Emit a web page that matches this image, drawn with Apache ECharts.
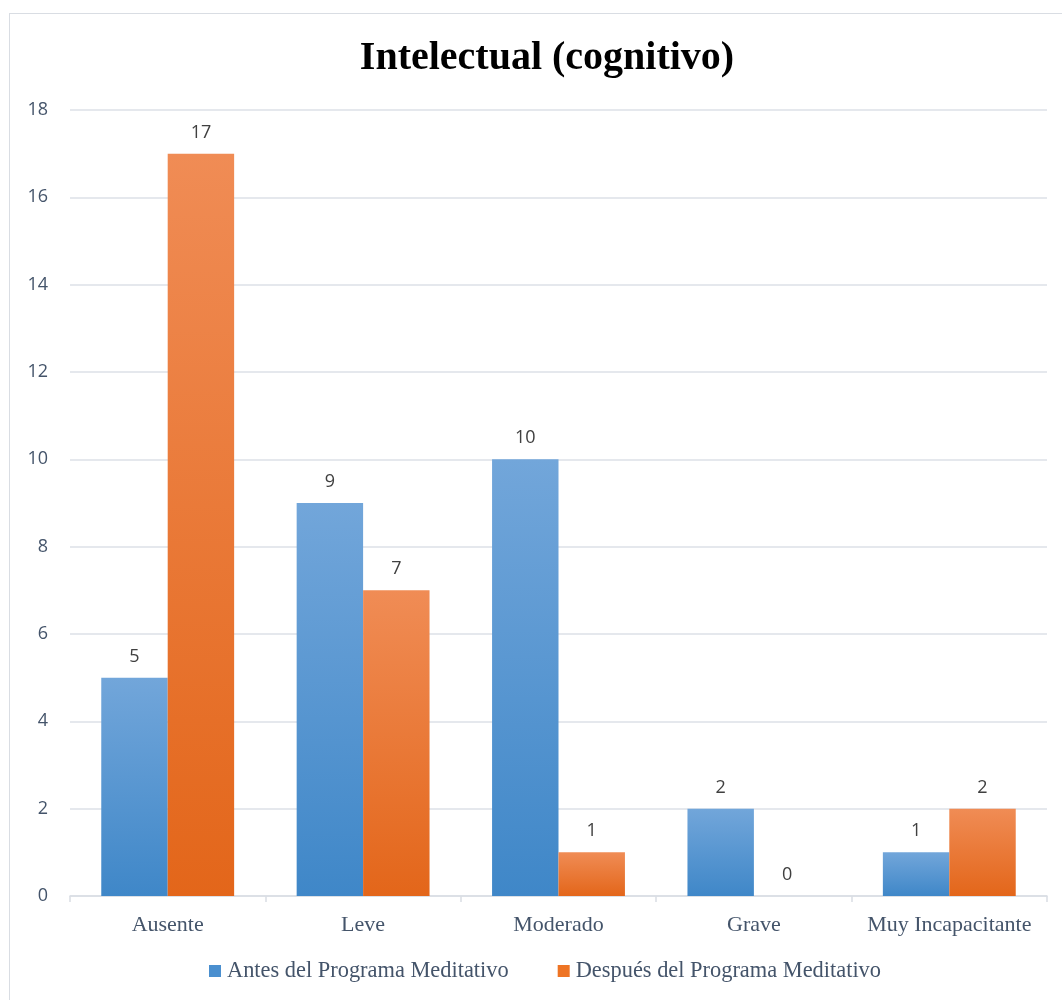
<!DOCTYPE html>
<html>
<head>
<meta charset="utf-8">
<script src="https://cdn.jsdelivr.net/npm/echarts@6/dist/echarts.min.js"></script>
<style>
  html, body { margin: 0; padding: 0; background: #fff; overflow: hidden; width: 1062px; height: 1000px; }
  #frame { position: absolute; left: 9px; top: 13px; width: 1100px; height: 1100px; border: 1px solid #d9dde3; box-sizing: border-box; }
  #chart { position: absolute; left: 0; top: 0; width: 1062px; height: 1000px; }
</style>
</head>
<body>
<div id="frame"></div>
<div id="chart"></div>
<script>
const categories = ['Ausente', 'Leve', 'Moderado', 'Grave', 'Muy Incapacitante'];
const antes = [5, 9, 10, 2, 1];
const despues = [17, 7, 1, 0, 2];
const seriesNames = ['Antes del Programa Meditativo', 'Después del Programa Meditativo'];
const yTicks = { min: 0, max: 18, interval: 2 };

const serif = '"Liberation Serif", "Times New Roman", serif';
const sans = '"Open Sans", "Liberation Sans", sans-serif';
const textColor = '#44546a';

function grad(top, bottom) {
  return new echarts.graphic.LinearGradient(0, 0, 0, 1, [
    { offset: 0, color: top },
    { offset: 1, color: bottom }
  ]);
}

const chart = echarts.init(document.getElementById('chart'), null, { renderer: 'canvas' });
chart.setOption({
  animation: false,
  backgroundColor: 'transparent',
  title: {
    text: 'Intelectual (cognitivo)',
    left: 542,
    top: 34,
    textAlign: 'center',
    textStyle: { fontFamily: serif, fontWeight: 'bold', fontSize: 40, color: '#000' }
  },
  legend: {
    top: 955,
    left: 204,
    itemWidth: 12,
    itemHeight: 12,
    itemGap: 49,
    icon: 'rect',
    textStyle: { fontFamily: serif, fontSize: 22.4, color: textColor, padding: [0, 0, 0, 1] },
    data: [
      { name: seriesNames[0], itemStyle: { color: '#4a8fcf' } },
      { name: seriesNames[1], itemStyle: { color: '#ee7424' } }
    ]
  },
  grid: { left: 70, right: 15, top: 110, bottom: 104 },
  xAxis: {
    type: 'category',
    data: categories,
    axisLine: { lineStyle: { color: '#d9dde3', width: 1.5 } },
    axisTick: { show: true, length: 6, lineStyle: { color: '#d9dde3', width: 1.5 } },
    axisLabel: { interval: 0, fontFamily: serif, fontSize: 22, color: textColor, margin: 18 }
  },
  yAxis: {
    type: 'value',
    min: yTicks.min,
    max: yTicks.max,
    interval: yTicks.interval,
    axisLine: { show: false },
    axisTick: { show: false },
    axisLabel: { fontFamily: sans, fontSize: 18, color: textColor, margin: 22 },
    splitLine: { lineStyle: { color: '#dde1e7', width: 1.5 } }
  },
  series: [
    {
      name: seriesNames[0],
      type: 'bar',
      data: antes,
      barGap: '0%',
      barCategoryGap: '32%',
      itemStyle: { color: grad('#72a6da', '#3f87c8') },
      label: { show: true, position: 'top', distance: 12, fontFamily: sans, fontSize: 18, color: '#404040' }
    },
    {
      name: seriesNames[1],
      type: 'bar',
      data: despues,
      itemStyle: { color: grad('#f08c55', '#e3661a') },
      label: { show: true, position: 'top', distance: 12, fontFamily: sans, fontSize: 18, color: '#404040' }
    }
  ]
});
</script>
</body>
</html>
